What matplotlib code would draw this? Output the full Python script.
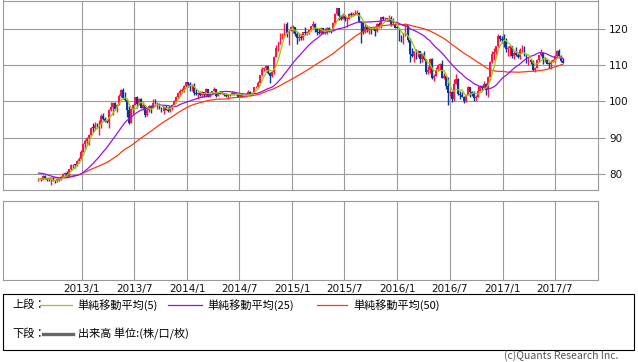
import numpy as np
import pandas as pd
import matplotlib.pyplot as plt
import matplotlib.dates as mdates
from matplotlib.patches import Rectangle
from matplotlib.lines import Line2D

plt.rcParams['font.family'] = ['Noto Sans CJK JP', 'DejaVu Sans']

# weekly closes before the chart starts (only used to warm up the moving averages)
close_before = [76.80, 76.55, 76.65, 76.80, 77.60, 76.80, 76.35, 77.05, 76.70, 76.95,
                76.20, 75.80, 78.20, 77.00, 76.90, 77.65, 77.90, 77.60, 77.80, 78.00,
                76.90, 76.95, 76.95, 77.00, 76.70, 76.55, 77.60, 79.50, 81.25, 81.70,
                82.45, 83.40, 82.40, 82.85, 81.50, 80.90, 81.55, 80.30, 79.75, 79.90,
                79.05, 79.65, 78.10, 79.55, 78.70, 80.45, 79.80, 79.65, 79.20, 78.45,
                78.25]

first_week = "2012-08-03"

# weekly close / high / low (open = previous close)
close = [
    # 2012
    78.40, 78.27, 79.55, 78.67, 78.30, 78.23, 78.37, 78.25, 77.95, 78.68, 78.43,
    79.27, 79.88, 80.40, 79.50, 81.30, 82.40, 82.50, 82.45, 83.50, 84.20, 85.95,
    # 2013
    88.15, 89.18, 90.05, 90.85, 92.75, 92.65, 93.50, 93.40, 93.60, 96.05, 95.25,
    94.50, 94.20, 97.55, 98.40, 99.55, 98.05, 98.95, 101.60, 103.20, 101.00, 100.45,
    97.55, 94.05, 97.90, 99.15, 101.20, 99.20, 100.60, 98.25, 98.95, 96.25, 97.55,
    98.70, 98.15, 99.70, 99.35, 99.35, 98.25, 97.45, 98.55, 97.75, 97.40, 98.70,
    99.05, 100.20, 101.30, 102.45, 102.90, 103.20, 104.15, 105.30,
    # 2014
    104.85, 104.15, 104.30, 102.30, 102.05, 102.30, 101.80, 102.55, 101.80, 103.30,
    101.35, 102.25, 102.80, 103.30, 101.60, 102.40, 102.15, 102.20, 101.85, 101.45,
    101.95, 101.80, 102.45, 102.00, 102.05, 101.35, 102.05, 101.35, 101.35, 101.85,
    102.60, 102.05, 102.40, 103.85, 104.05, 105.10, 107.35, 109.00, 109.30, 109.75,
    107.70, 106.90, 108.15, 112.30, 114.60, 116.30, 117.75, 118.60, 121.45, 118.75,
    119.50, 120.40,
    # 2015
    120.45, 118.55, 117.55, 117.70, 117.50, 119.10, 118.75, 119.05, 119.60, 120.80,
    121.40, 120.05, 119.15, 118.95, 120.20, 118.95, 118.95, 120.20, 119.75, 119.35,
    121.55, 124.10, 125.60, 123.40, 122.65, 123.85, 122.80, 122.80, 124.05, 123.80,
    123.90, 124.20, 124.30, 122.00, 121.70, 119.00, 120.55, 120.00, 120.55, 119.90,
    120.25, 119.45, 121.45, 120.60, 123.15, 122.60, 122.80, 122.80, 123.10, 120.95,
    121.20, 120.25,
    # 2016
    120.20, 117.25, 116.95, 118.75, 121.10, 116.85, 113.20, 112.55, 113.95, 113.80,
    113.80, 111.55, 113.05, 111.65, 108.05, 108.75, 111.80, 106.35, 107.10, 108.65,
    110.15, 110.25, 106.55, 107.00, 104.15, 102.20, 102.55, 100.55, 104.85, 106.10,
    102.05, 101.80, 101.30, 100.20, 101.85, 103.95, 102.65, 102.25, 100.95, 101.30,
    102.90, 104.20, 103.80, 104.70, 103.10, 106.65, 110.90, 113.20, 113.50, 115.30,
    117.95, 117.25, 116.95,
    # 2017
    116.90, 114.50, 114.60, 115.15, 112.60, 113.25, 112.85, 112.10, 114.05, 114.80,
    112.70, 111.30, 111.40, 110.85, 108.65, 109.10, 111.50, 112.70, 113.35, 111.30,
    111.30, 110.40, 110.35, 110.85, 111.30, 112.40, 113.90, 112.55, 111.15, 110.70,
]

high = [
    # 2012
    78.75, 78.80, 79.65, 79.60, 78.95, 78.85, 78.50, 79.20, 78.30, 78.85, 78.75,
    79.45, 80.35, 80.65, 80.70, 81.50, 82.85, 82.80, 82.85, 84.00, 84.65, 86.65,
    # 2013
    88.45, 89.65, 90.25, 91.05, 92.95, 94.10, 94.45, 94.00, 94.80, 96.60, 96.70,
    95.60, 94.90, 97.80, 99.95, 99.75, 99.90, 99.30, 101.95, 103.30, 103.75, 102.55,
    100.80, 98.70, 98.30, 99.20, 101.30, 101.50, 101.00, 100.85, 99.95, 99.00, 98.40,
    99.15, 99.10, 100.60, 100.60, 99.75, 99.60, 98.40, 98.70, 99.00, 98.40, 98.80,
    99.20, 100.40, 101.40, 102.60, 103.40, 103.65, 104.40, 105.40,
    # 2014
    105.45, 105.45, 104.90, 104.95, 103.45, 102.70, 102.85, 102.90, 102.70, 103.75,
    103.40, 102.65, 102.90, 104.10, 103.40, 102.70, 102.80, 103.00, 102.45, 102.30,
    102.00, 102.10, 102.80, 102.60, 102.35, 102.10, 102.25, 102.05, 101.60, 102.00,
    103.15, 102.75, 102.60, 104.05, 104.20, 105.70, 107.40, 109.45, 109.45, 110.10,
    109.60, 108.00, 108.35, 112.50, 115.60, 116.40, 118.95, 118.95, 121.70, 121.85,
    119.65, 120.85,
    # 2015
    121.00, 120.55, 119.15, 118.85, 118.60, 119.20, 120.45, 119.50, 119.80, 120.90,
    122.05, 121.55, 120.25, 120.20, 120.60, 120.30, 120.10, 120.50, 120.50, 120.00,
    121.80, 124.45, 125.85, 125.10, 123.90, 124.30, 123.80, 123.00, 124.45, 124.60,
    124.55, 125.05, 125.30, 124.50, 122.20, 121.75, 121.40, 121.00, 120.85, 120.55,
    120.70, 120.45, 121.50, 121.75, 123.30, 123.60, 123.25, 123.10, 123.70, 123.65,
    123.00, 121.50,
    # 2016
    120.80, 120.20, 118.25, 118.90, 121.70, 121.05, 117.45, 114.85, 114.00, 114.55,
    114.30, 114.00, 113.30, 113.80, 111.75, 109.75, 111.90, 111.90, 107.45, 109.40,
    110.40, 110.60, 111.40, 107.90, 107.25, 106.80, 103.25, 103.00, 106.30, 107.50,
    106.55, 102.80, 102.70, 101.40, 102.00, 104.20, 104.00, 103.00, 102.80, 101.80,
    104.15, 104.60, 104.40, 105.55, 105.10, 106.90, 111.00, 113.90, 114.80, 115.35,
    118.65, 118.25, 118.15,
    # 2017
    118.60, 117.50, 115.30, 115.40, 115.35, 113.90, 114.95, 113.75, 114.75, 115.50,
    115.20, 113.00, 112.20, 111.60, 111.40, 109.50, 111.75, 112.90, 114.35, 113.60,
    112.15, 111.75, 110.80, 111.40, 111.80, 112.90, 114.15, 114.50, 112.85, 111.95,
]

low = [
    # 2012
    78.10, 78.10, 78.25, 78.50, 78.20, 78.20, 77.10, 77.95, 77.40, 77.85, 78.00,
    78.35, 79.30, 79.55, 79.10, 79.45, 81.15, 81.70, 81.75, 82.30, 83.00, 84.25,
    # 2013
    85.95, 87.10, 88.10, 88.05, 90.45, 91.60, 92.20, 92.70, 90.85, 92.70, 95.00,
    94.40, 93.95, 92.55, 97.45, 96.30, 97.60, 97.10, 98.90, 101.15, 100.65, 100.00,
    95.70, 93.80, 94.10, 96.60, 98.95, 98.30, 99.00, 98.20, 97.50, 95.80, 96.10,
    97.15, 96.80, 98.40, 99.20, 97.80, 98.00, 96.95, 96.55, 97.60, 96.95, 97.15,
    97.60, 98.80, 99.60, 100.60, 101.60, 102.20, 102.70, 104.00,
    # 2014
    104.00, 102.85, 102.85, 101.75, 101.85, 100.75, 101.40, 101.35, 101.30, 101.20,
    101.20, 101.25, 101.95, 102.80, 101.30, 101.50, 102.00, 101.95, 101.45, 101.10,
    100.80, 101.55, 101.80, 101.65, 101.70, 101.25, 101.25, 101.10, 101.10, 101.30,
    101.80, 101.50, 101.95, 102.40, 103.75, 104.05, 105.00, 107.00, 108.30, 108.75,
    107.50, 105.20, 106.75, 107.50, 112.25, 113.85, 115.90, 117.25, 117.85, 117.80,
    115.55, 119.40,
    # 2015
    118.85, 118.00, 115.85, 116.75, 117.00, 116.85, 118.35, 118.20, 118.50, 119.50,
    120.50, 119.25, 118.30, 118.70, 118.70, 118.70, 118.50, 118.70, 119.00, 118.85,
    119.40, 121.35, 123.75, 122.45, 122.45, 122.60, 122.10, 120.40, 122.80, 123.30,
    123.50, 123.70, 123.90, 121.75, 116.15, 118.60, 118.80, 119.25, 118.60, 118.70,
    119.60, 118.05, 119.05, 120.10, 120.25, 122.35, 122.20, 122.35, 122.25, 120.65,
    121.00, 120.20,
    # 2016
    120.10, 116.70, 116.50, 115.95, 117.90, 116.35, 110.95, 112.30, 110.95, 111.70,
    112.20, 110.65, 110.85, 111.40, 107.65, 107.65, 107.90, 106.15, 105.55, 106.90,
    108.25, 108.75, 106.50, 106.25, 103.55, 99.00, 101.45, 99.95, 100.25, 104.70,
    101.90, 100.70, 101.20, 99.55, 99.90, 101.80, 101.20, 101.40, 100.10, 100.10,
    101.30, 102.90, 103.25, 103.80, 101.85, 101.20, 105.80, 110.45, 111.35, 112.90,
    114.95, 116.55, 116.05,
    # 2017
    115.05, 113.75, 112.60, 112.55, 112.05, 111.60, 112.60, 111.95, 111.70, 113.60,
    112.55, 110.65, 110.10, 110.20, 108.50, 108.15, 109.15, 110.85, 112.55, 110.25,
    110.80, 110.20, 109.10, 108.85, 110.95, 110.90, 112.35, 112.30, 110.95, 110.60,
]

ma_periods = [5, 25, 50]
ma_colors = ['#99cc00', '#9a10f0', '#ff3a10']
ma_labels = ['単純移動平均(5)', '単純移動平均(25)', '単純移動平均(50)']

grid_dates = ['2013-01-01', '2013-07-01', '2014-01-01', '2014-07-01', '2015-01-01',
              '2015-07-01', '2016-01-01', '2016-07-01', '2017-01-01', '2017-07-01']
grid_labels = ['2013/1', '2013/7', '2014/1', '2014/7', '2015/1',
               '2015/7', '2016/1', '2016/7', '2017/1', '2017/7']

# ---- data prep
dates = pd.date_range(first_week, periods=len(close), freq='W-FRI')
x = mdates.date2num(dates)
c = np.array(close)
h = np.array(high)
l = np.array(low)
o = np.concatenate([[close_before[-1]], c[:-1]])
up = c >= o

all_close = pd.Series(close_before + close)
mas = [all_close.rolling(n).mean().values[-len(close):] for n in ma_periods]

gx = mdates.date2num(pd.to_datetime(grid_dates))
x0 = mdates.date2num(pd.Timestamp('2013-01-01')) - 274.2
x1 = x0 + 2065.5

GRID = '#9a9a9a'
W, H = 638, 362

fig = plt.figure(figsize=(W / 100, H / 100), dpi=100)
ax1 = fig.add_axes([3 / W, 1 - 190 / H, 595 / W, 189.5 / H])
ax2 = fig.add_axes([3 / W, 1 - 280 / H, 595 / W, 79 / H])

# ---- upper panel: candles + moving averages
col = np.where(up, '#ff1446', '#0b3897')
ax1.vlines(x, l, h, colors=col, lw=1.0, zorder=3)
body_lo = np.minimum(o, c)
body_h = np.maximum(np.abs(c - o), 0.2)
ax1.bar(x, body_h, bottom=body_lo, width=6.5, color=col, linewidth=0, zorder=3)

for ma, colr in zip(mas[::-1], ma_colors[::-1]):
    ax1.plot(x, ma, color=colr, lw=0.9, zorder=4)

for ax in (ax1, ax2):
    ax.set_xlim(x0, x1)
    ax.set_xticks(gx)
    ax.grid(True, axis='x', color=GRID, lw=0.8)
    for s in ax.spines.values():
        s.set_color(GRID)
        s.set_linewidth(0.8)
    ax.set_axisbelow(True)

ax1.set_ylim(75.6, 127.8)
ax1.set_yticks([80, 90, 100, 110, 120])
ax1.grid(True, axis='y', color=GRID, lw=0.8)
ax1.yaxis.tick_right()
ax1.tick_params(axis='y', colors=GRID, labelcolor='#111111', length=5, width=0.8,
                labelsize=7.5, pad=3)
ax1.tick_params(axis='x', length=0, labelbottom=False)
for t in ax1.get_yticklabels():
    t.set_family('DejaVu Sans')

# ---- lower panel (volume, empty)
ax2.set_yticks([])
ax2.set_xticklabels(grid_labels, family='DejaVu Sans')
ax2.tick_params(axis='x', length=0, labelsize=7.5, pad=3, labelcolor='#111111')

# ---- legend box
fig.patches.append(Rectangle((3 / W, 1 - 350 / H), 631 / W, 56 / H, transform=fig.transFigure,
                             fill=False, edgecolor='black', lw=0.8))

def px(xp, yp):
    return xp / W, 1 - yp / H

fig.text(*px(12, 305), '上段：', fontsize=8, va='center')
line_x = [(40, 72), (168, 202), (317, 347)]
text_x = [77, 207, 353]
for (a, b), tx, colr, lab in zip(line_x, text_x, ma_colors, ma_labels):
    fig.lines.append(Line2D([a / W, b / W], [1 - 305 / H] * 2, transform=fig.transFigure,
                            color=colr, lw=0.9))
    fig.text(*px(tx, 305), lab, fontsize=8, va='center')

fig.text(*px(12, 334), '下段：', fontsize=8, va='center')
fig.lines.append(Line2D([43 / W, 73 / W], [1 - 334 / H] * 2, transform=fig.transFigure,
                        color='#666666', lw=2.4))
fig.text(*px(78, 334), '出来高 単位:(株/口/枚)', fontsize=8, va='center')

fig.text(*px(618, 356), '(c)Quants Research Inc.', fontsize=7.5, va='center', ha='right',
         color='#555555')

fig.savefig('out.png', dpi=100)
